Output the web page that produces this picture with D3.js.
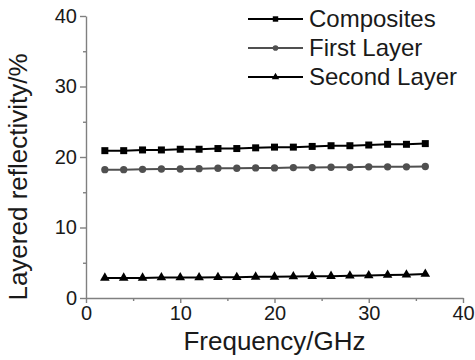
<!DOCTYPE html>
<html>
<head>
<meta charset="utf-8">
<script src="https://cdn.jsdelivr.net/npm/d3@7"></script>
<style>
  body { margin: 0; background: #fff; }
  text { font-family: "Liberation Sans", Arial, sans-serif; fill: #1a1a1a; }
</style>
</head>
<body>
<div id="chart"></div>
<script>
var w = 475, h = 360;
var margin = { top: 16, right: 12, bottom: 62, left: 86 };

// data
var freq = [2, 4, 6, 8, 10, 12, 14, 16, 18, 20, 22, 24, 26, 28, 30, 32, 34, 36];
var composites = [20.9, 20.9, 21.0, 21.0, 21.1, 21.1, 21.2, 21.2, 21.3, 21.4, 21.4, 21.5, 21.6, 21.6, 21.7, 21.8, 21.8, 21.9];
var firstLayer = [18.2, 18.2, 18.25, 18.3, 18.3, 18.35, 18.4, 18.4, 18.45, 18.45, 18.5, 18.5, 18.55, 18.55, 18.6, 18.6, 18.6, 18.65];
var secondLayer = [2.85, 2.85, 2.85, 2.9, 2.9, 2.9, 2.95, 2.95, 3.0, 3.0, 3.05, 3.1, 3.1, 3.15, 3.2, 3.25, 3.3, 3.4];
var seriesNames = ["Composites", "First Layer", "Second Layer"];
var xTicks = [0, 10, 20, 30, 40];
var yTicks = [0, 10, 20, 30, 40];

var series = [
  { name: seriesNames[0], values: composites, color: "#000", symbol: d3.symbolSquare, size: 49 },
  { name: seriesNames[1], values: firstLayer, color: "#505050", symbol: d3.symbolCircle, size: 42 },
  { name: seriesNames[2], values: secondLayer, color: "#000", symbol: d3.symbolTriangle, size: 40 }
];

var xscale = d3.scaleLinear().domain([0, 40]).range([margin.left, w - margin.right]);
var yscale = d3.scaleLinear().domain([0, 40]).range([h - margin.bottom, margin.top]);

var svg = d3.select("#chart").append("svg")
  .attr("width", w)
  .attr("height", h);

// axes (left + bottom only), gray lines
var axisColor = "#808080";

svg.append("g")
  .attr("transform", `translate(0, ${yscale(0)})`)
  .call(d3.axisBottom(xscale).tickValues(xTicks).tickSizeOuter(0).tickSizeInner(5).tickPadding(3));
svg.append("g")
  .attr("transform", `translate(0, ${yscale(0)})`)
  .call(d3.axisBottom(xscale).tickValues([5, 15, 25, 35]).tickSizeOuter(0).tickSizeInner(3).tickFormat(""))
  .select(".domain").remove();

svg.append("g")
  .attr("transform", `translate(${xscale(0)}, 0)`)
  .call(d3.axisLeft(yscale).tickValues(yTicks).tickSizeOuter(0).tickSizeInner(6).tickPadding(3));
svg.append("g")
  .attr("transform", `translate(${xscale(0)}, 0)`)
  .call(d3.axisLeft(yscale).tickValues([5, 15, 25, 35]).tickSizeOuter(0).tickSizeInner(3).tickFormat(""))
  .select(".domain").remove();

svg.selectAll(".domain, .tick line")
  .attr("stroke", axisColor)
  .attr("stroke-width", 1.4);
svg.selectAll(".tick text")
  .style("font-size", "20px")
  .style("font-family", "'Liberation Sans', Arial, sans-serif")
  .attr("fill", "#1a1a1a");

// axis labels
svg.append("text")
  .attr("x", (xscale(0) + xscale(40)) / 2)
  .attr("y", 350)
  .attr("text-anchor", "middle")
  .style("font-size", "26px")
  .text("Frequency/GHz");

svg.append("text")
  .attr("transform", "translate(27, 177) rotate(-90)")
  .attr("text-anchor", "middle")
  .style("font-size", "26px")
  .text("Layered reflectivity/%");

// lines and markers
var line = d3.line()
  .x((d, i) => xscale(freq[i]))
  .y(d => yscale(d));

series.forEach(function(s) {
  svg.append("path")
    .datum(s.values)
    .attr("fill", "none")
    .attr("stroke", s.color)
    .attr("stroke-width", 2)
    .attr("d", line);

  svg.selectAll(null)
    .data(s.values)
    .enter()
    .append("path")
    .attr("transform", (d, i) => `translate(${xscale(freq[i])}, ${yscale(d)})`)
    .attr("d", d3.symbol().type(s.symbol).size(s.size))
    .attr("fill", s.color);
});

// legend
var legend = svg.selectAll(".legend")
  .data(series)
  .enter()
  .append("g")
  .attr("class", "legend")
  .attr("transform", (d, i) => `translate(0, ${19 + i * 29})`);

legend.append("line")
  .attr("x1", 248).attr("x2", 303)
  .attr("y1", 0).attr("y2", 0)
  .attr("stroke", d => d.color)
  .attr("stroke-width", 2);

legend.append("path")
  .attr("transform", "translate(275.5, 0)")
  .attr("d", d => d3.symbol().type(d.symbol).size(d.size * 0.6)())
  .attr("fill", d => d.color);

legend.append("text")
  .attr("x", 309)
  .attr("y", 0)
  .attr("dy", "0.35em")
  .style("font-size", "24px")
  .text(d => d.name);
</script>
</body>
</html>
